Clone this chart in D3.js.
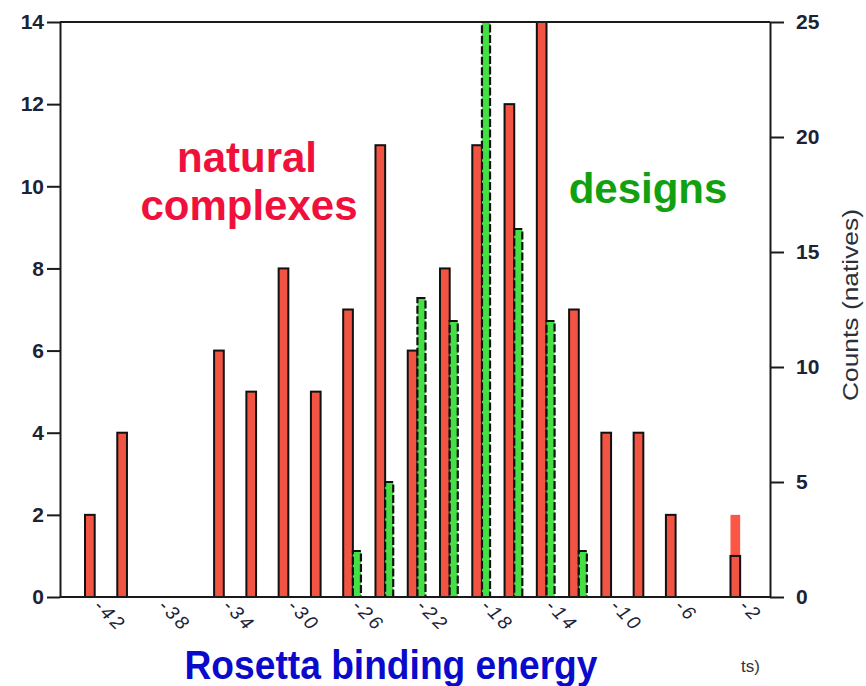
<!DOCTYPE html>
<html>
<head>
<meta charset="utf-8">
<script src="https://cdn.jsdelivr.net/npm/d3@7"></script>
<style>
  html, body { margin: 0; padding: 0; background: #fff; }
  svg { display: block; }
</style>
</head>
<body>
<svg id="chart" width="866" height="686"></svg>
<script>
// Binding-energy bins (Rosetta units), two units wide
const bins = [-42, -40, -38, -36, -34, -32, -30, -28, -26, -24, -22, -20, -18, -16, -14, -12, -10, -8, -6, -4, -2];
// Counts of natural complexes per bin (left axis)
const nativeCounts = [2, 4, 0, 0, 6, 5, 8, 5, 7, 11, 6, 8, 11, 12, 14, 7, 4, 4, 2, 0, 1];
// Extra unoutlined native fill on the last bin
const nativeExtraBins = [-2];
const nativeExtraCounts = [2];
// Counts of designs per bin (right axis)
const designBins = [-26, -24, -22, -20, -18, -16, -14, -12];
const designCounts = [2, 5, 13, 12, 25, 16, 12, 2];
// Axis ticks
const xTicks = [-42, -38, -34, -30, -26, -22, -18, -14, -10, -6, -2];
const xTickLabels = ["-42", "-38", "-34", "-30", "-26", "-22", "-18", "-14", "-10", "-6", "-2"];
const leftTicks = [0, 2, 4, 6, 8, 10, 12, 14];
const rightTicks = [0, 5, 10, 15, 20, 25];

const svg = d3.select("#chart");
const plot = { left: 60, right: 770, top: 22, bottom: 597 };

const x = d3.scaleLinear().domain([-44, 0]).range([plot.left, plot.right]);
const yLeft = d3.scaleLinear().domain([0, 14]).range([plot.bottom, plot.top]);
const yRight = d3.scaleLinear().domain([0, 25]).range([plot.bottom, plot.top]);

const tickColor = "#1c2336";
const tickFont = "'Liberation Sans', Arial, Helvetica, sans-serif";

const natives = bins.map((b, i) => ({ bin: b, count: nativeCounts[i] })).filter(d => d.count > 0);
const extra = nativeExtraBins.map((b, i) => ({ bin: b, count: nativeExtraCounts[i] }));
const designs = designBins.map((b, i) => ({ bin: b, count: designCounts[i] }));

// Unoutlined native fill
svg.append("g").selectAll("rect").data(extra).join("rect")
  .attr("x", d => x(d.bin - 0.45))
  .attr("width", d => x(d.bin + 0.15) - x(d.bin - 0.45))
  .attr("y", d => yLeft(d.count))
  .attr("height", d => yLeft(0) - yLeft(d.count))
  .attr("fill", "#fb5646");

// Native bars
svg.append("g").selectAll("rect").data(natives).join("rect")
  .attr("x", d => x(d.bin - 0.45))
  .attr("width", d => x(d.bin + 0.15) - x(d.bin - 0.45))
  .attr("y", d => yLeft(d.count))
  .attr("height", d => yLeft(0) - yLeft(d.count))
  .attr("fill", "#f25443")
  .attr("stroke", "#111")
  .attr("stroke-width", 2);

// Design bars
svg.append("g").selectAll("rect").data(designs).join("rect")
  .attr("x", d => x(d.bin + 0.15))
  .attr("width", d => x(d.bin + 0.65) - x(d.bin + 0.15))
  .attr("y", d => yRight(d.count))
  .attr("height", d => yRight(0) - yRight(d.count))
  .attr("fill", "#45e045")
  .attr("stroke", "#111")
  .attr("stroke-width", 2.2)
  .attr("stroke-dasharray", "8,2.5");

// Top frame line
svg.append("line")
  .attr("x1", plot.left).attr("x2", plot.right)
  .attr("y1", plot.top).attr("y2", plot.top)
  .attr("stroke", "#1a1a1a").attr("stroke-width", 2);

// Left axis
const leftAxis = svg.append("g")
  .attr("transform", `translate(${plot.left},0)`)
  .call(d3.axisLeft(yLeft).tickValues(leftTicks).tickSize(13).tickPadding(3).tickSizeOuter(0));
// Right axis
const rightAxis = svg.append("g")
  .attr("transform", `translate(${plot.right},0)`)
  .call(d3.axisRight(yRight).tickValues(rightTicks).tickSize(14).tickPadding(12).tickSizeOuter(0));
// Bottom axis
const bottomAxis = svg.append("g")
  .attr("transform", `translate(0,${plot.bottom})`)
  .call(d3.axisBottom(x).tickValues(xTicks).tickFormat((d, i) => xTickLabels[i]).tickSize(0).tickSizeOuter(0));

[leftAxis, rightAxis, bottomAxis].forEach(g => {
  g.select(".domain").attr("stroke", "#1a1a1a").attr("stroke-width", 2);
  g.selectAll(".tick line").attr("stroke", "#1a1a1a").attr("stroke-width", 2);
  g.selectAll("text").attr("fill", tickColor).attr("font-family", tickFont);
});
bottomAxis.select(".domain").attr("d", `M${plot.left},0H${plot.right}`);
leftAxis.selectAll("text").attr("font-size", 21).attr("font-weight", "bold");
rightAxis.selectAll("text").attr("font-size", 21).attr("font-weight", "bold").attr("text-anchor", "start");
bottomAxis.selectAll(".tick text")
  .attr("font-size", 19)
  .attr("font-style", "italic")
  .attr("letter-spacing", 3)
  .attr("text-anchor", "start")
  .attr("dy", null)
  .attr("y", 0)
  .attr("transform", "translate(0,10) rotate(45)");

// Right axis title
svg.append("text")
  .attr("transform", "translate(858,305) rotate(-90)")
  .attr("text-anchor", "middle")
  .attr("font-family", tickFont)
  .attr("font-size", 22)
  .attr("textLength", 192)
  .attr("lengthAdjust", "spacingAndGlyphs")
  .attr("fill", "#2b2f3a")
  .text("Counts (natives)");

// Series annotations
const label = (txt, cx, cy, color, size) => svg.append("text")
  .attr("x", cx).attr("y", cy)
  .attr("text-anchor", "middle")
  .attr("font-family", tickFont)
  .attr("font-weight", "bold")
  .attr("font-size", size)
  .attr("fill", color)
  .text(txt);
label("natural", 247, 172, "#f0103c", 42);
label("complexes", 249, 220, "#f0103c", 42);
label("designs", 648, 203, "#10a010", 42);

// X axis title
svg.append("text")
  .attr("x", 391).attr("y", 679)
  .attr("text-anchor", "middle")
  .attr("font-family", tickFont)
  .attr("font-weight", "bold")
  .attr("font-size", 40)
  .attr("textLength", 413)
  .attr("lengthAdjust", "spacingAndGlyphs")
  .attr("fill", "#0a0acc")
  .text("Rosetta binding energy");

svg.append("text")
  .attr("x", 741).attr("y", 672)
  .attr("font-family", tickFont)
  .attr("font-size", 17)
  .attr("fill", "#333")
  .text("ts)");
</script>
</body>
</html>
